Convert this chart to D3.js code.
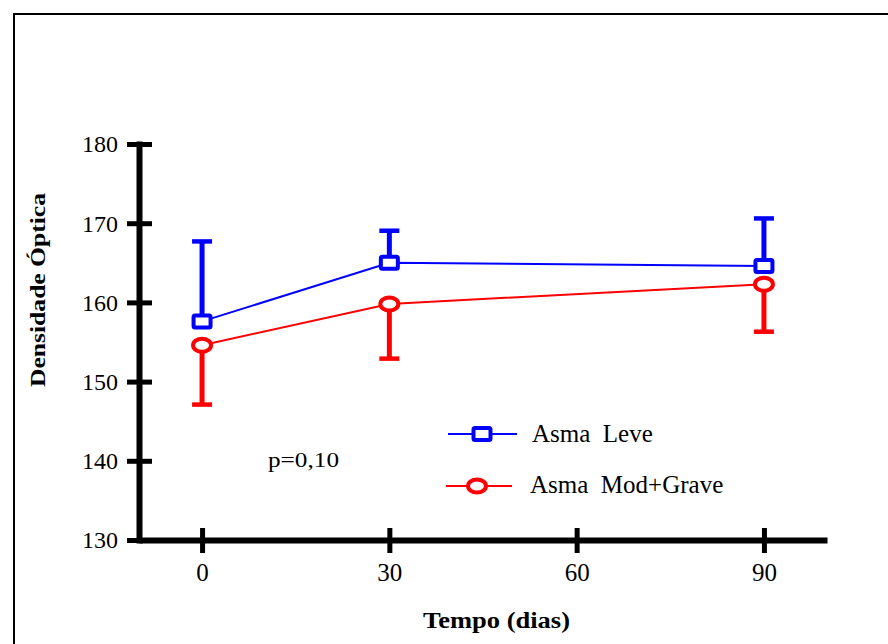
<!DOCTYPE html>
<html>
<head>
<meta charset="utf-8">
<script src="https://cdn.jsdelivr.net/npm/d3@7"></script>
<style>
  html, body { margin: 0; padding: 0; background: #fff; }
  svg { display: block; }
  text { font-family: "Liberation Serif", "Times New Roman", serif; fill: #000; }
</style>
</head>
<body>
<svg id="chart" width="888" height="644"></svg>
<script>
// ---- data ----
const days = [0, 30, 90];
const xTickValues = [0, 30, 60, 90];
const yTickValues = [130, 140, 150, 160, 170, 180];
const seriesNames = ["Asma  Leve", "Asma  Mod+Grave"];
const leveMean = [157.6, 165.0, 164.6];
const leveErr  = [10.1, 4.05, 6.0];   // upward error bars
const modMean  = [154.6, 159.8, 162.3];
const modErr   = [7.5, 6.9, 6.0];     // downward error bars
const yTitle = "Densidade Óptica";
const xTitle = "Tempo (dias)";
const pText = "p=0,10";

const svg = d3.select("#chart");

// outer frame
svg.append("rect").attr("x", 14).attr("y", 14).attr("width", 900).attr("height", 700)
  .attr("fill", "none").attr("stroke", "#000").attr("stroke-width", 2);

const x = d3.scaleLinear().domain([-10.1, 100.1]).range([139, 827]);
const y = d3.scaleLinear().domain([130, 180]).range([540, 144]);

// y axis
const yAxis = svg.append("g").attr("transform", "translate(139,0)")
  .call(d3.axisLeft(y).tickValues(yTickValues).tickSizeInner(12).tickSizeOuter(0));
yAxis.select(".domain").attr("stroke-width", 6).attr("stroke-linecap", "square");
yAxis.selectAll(".tick line").attr("x1", -12).attr("x2", 13).attr("stroke-width", 5);
yAxis.selectAll(".tick text").attr("x", -21).attr("dy", "0.33em")
  .style("font-size", "24px").style("font-family", "Liberation Serif");

// x axis
const xAxis = svg.append("g").attr("transform", "translate(0,540)")
  .call(d3.axisBottom(x).tickValues(xTickValues).tickSizeInner(12).tickSizeOuter(0));
xAxis.select(".domain").attr("stroke-width", 6);
xAxis.selectAll(".tick line").attr("y1", -12).attr("y2", 13).attr("stroke-width", 5);
xAxis.selectAll(".tick text").attr("y", 41).attr("dy", 0)
  .style("font-size", "25px").style("font-family", "Liberation Serif");

// titles
svg.append("text").attr("transform", "translate(45,290) rotate(-90)")
  .attr("text-anchor", "middle").style("font-size", "20px").style("font-weight", "bold")
  .attr("textLength", 194).attr("lengthAdjust", "spacingAndGlyphs").text(yTitle);
svg.append("text").attr("x", 496.5).attr("y", 628)
  .attr("text-anchor", "middle").style("font-size", "23px").style("font-weight", "bold")
  .attr("textLength", 147).attr("lengthAdjust", "spacingAndGlyphs").text(xTitle);
svg.append("text").attr("x", 268).attr("y", 467)
  .style("font-size", "21px").attr("textLength", 71).attr("lengthAdjust", "spacingAndGlyphs")
  .text(pText);

const leve = days.map((d, i) => ({d, m: leveMean[i], e: leveErr[i]}));
const mod = days.map((d, i) => ({d, m: modMean[i], e: modErr[i]}));
const line = d3.line().x(p => x(p.d)).y(p => y(p.m));

// lines
svg.append("path").datum(leve).attr("d", line).attr("fill", "none").attr("stroke", "#0000ff").attr("stroke-width", 2);
svg.append("path").datum(mod).attr("d", line).attr("fill", "none").attr("stroke", "#ff0000").attr("stroke-width", 2);

// error bars
function errBars(data, color, dir) {
  const g = svg.append("g");
  g.selectAll("line.stem").data(data).join("line")
    .attr("x1", p => x(p.d)).attr("x2", p => x(p.d))
    .attr("y1", p => y(p.m)).attr("y2", p => y(p.m + dir * p.e))
    .attr("stroke", color).attr("stroke-width", 5);
  g.selectAll("line.cap").data(data).join("line")
    .attr("x1", p => x(p.d) - 10).attr("x2", p => x(p.d) + 10)
    .attr("y1", p => y(p.m + dir * p.e)).attr("y2", p => y(p.m + dir * p.e))
    .attr("stroke", color).attr("stroke-width", 4.5);
}
errBars(leve, "#0000ff", 1);
errBars(mod, "#ff0000", -1);

// markers
function square(g, cx, cy) {
  g.append("rect").attr("x", cx - 8.5).attr("y", cy - 6).attr("width", 17).attr("height", 12)
    .attr("rx", 1.5).attr("fill", "#fff").attr("stroke", "#0000ff").attr("stroke-width", 4);
}
function circ(g, cx, cy) {
  g.append("ellipse").attr("cx", cx).attr("cy", cy).attr("rx", 9).attr("ry", 6.5)
    .attr("fill", "#fff").attr("stroke", "#ff0000").attr("stroke-width", 4);
}
const mk = svg.append("g");
leve.forEach(p => square(mk, x(p.d), y(p.m)));
mod.forEach(p => circ(mk, x(p.d), y(p.m)));

// legend
const lg = svg.append("g");
lg.append("line").attr("x1", 448).attr("x2", 517).attr("y1", 434).attr("y2", 434)
  .attr("stroke", "#0000ff").attr("stroke-width", 2);
square(lg, 482, 434);
lg.append("text").attr("x", 532).attr("y", 442).style("font-size", "25px")
  .style("white-space", "pre").text(seriesNames[0]);
lg.append("line").attr("x1", 446).attr("x2", 512).attr("y1", 486).attr("y2", 486)
  .attr("stroke", "#ff0000").attr("stroke-width", 2);
circ(lg, 477, 486);
lg.append("text").attr("x", 530).attr("y", 493).style("font-size", "25px")
  .style("white-space", "pre").text(seriesNames[1]);
</script>
</body>
</html>
